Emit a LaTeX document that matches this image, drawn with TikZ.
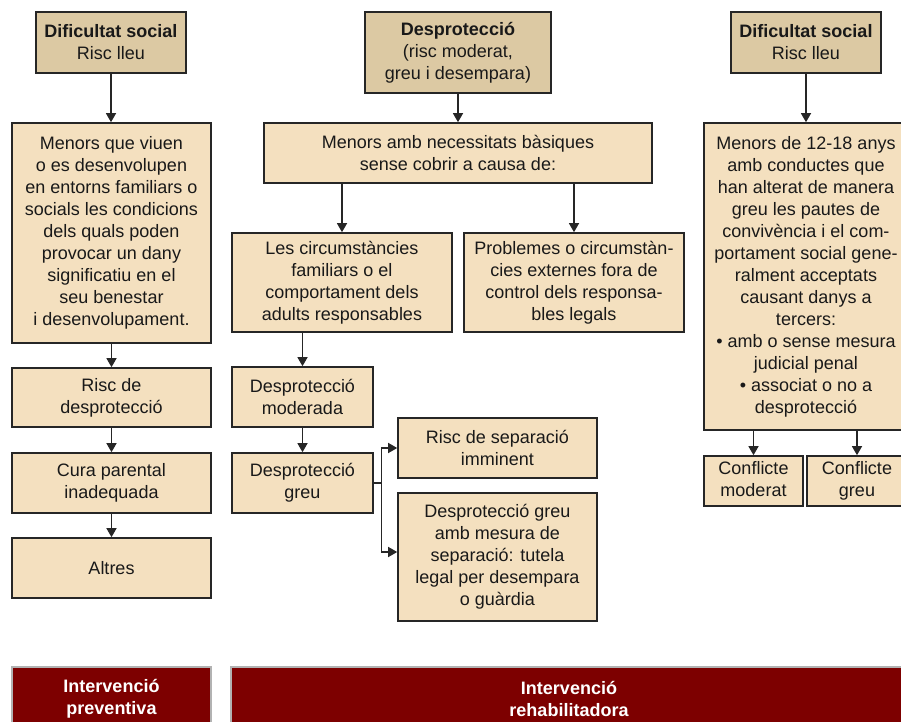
\documentclass[tikz,border=0pt]{standalone}
\usepackage{fontspec}
\setmainfont{Liberation Sans}
\usepackage{xcolor}
\usepackage{tikz}
\usetikzlibrary{arrows.meta, positioning, calc}

\definecolor{tanDark}{HTML}{DCC9A3}
\definecolor{tanLight}{HTML}{F4E0BF}
\definecolor{wine}{HTML}{7D0000}

\begin{document}
\begin{tikzpicture}[
  x=0.5pt, y=-0.5pt,
  box/.style    = {draw=black!85, line width=0.8pt, align=center, inner sep=2pt,
                   text=black!90, font=\fontsize{9}{11}\selectfont},
  head/.style   = {box, fill=tanDark},
  item/.style   = {box, fill=tanLight},
  action/.style = {box, fill=wine, draw=gray!60, text=white,
                   font=\fontsize{9}{11}\selectfont\bfseries},
  arr/.style    = {-{Triangle[length=4.5pt, width=5pt]}, line width=0.65pt, black!85},
]

\useasboundingbox (0,0) rectangle (901,722);
\clip (0,0) rectangle (901,722);

%% Left column: risc lleu
\node[head, minimum width=75pt,   minimum height=30.5pt] (difLeft)    at (111,42.5)
      {\textbf{Dificultat social}\\Risc lleu};
\node[item, minimum width=99.5pt, minimum height=110pt]  (menorsLeft) at (111.5,233)
      {Menors que viuen\\o es desenvolupen\\en entorns familiars o\\socials les condicions\\dels quals poden\\provocar un dany\\significatiu en el\\seu benestar\\i desenvolupament.};
\node[item, minimum width=99.5pt, minimum height=29.5pt] (riscDesp)   at (111.5,397.5)
      {Risc de\\desprotecció};
\node[item, minimum width=99.5pt, minimum height=30pt]   (cura)       at (111.5,483)
      {Cura parental\\inadequada};
\node[item, minimum width=99.5pt, minimum height=30pt]   (altres)     at (111.5,568)
      {Altres};

%% Middle column: desprotecció
\node[head, minimum width=93pt,   minimum height=40.5pt] (desp)       at (458,52.5)
      {\textbf{Desprotecció}\\(risc moderat,\\greu i desempara)};
\node[item, minimum width=194pt,  minimum height=30pt]   (menorsMid)  at (458,153)
      {Menors amb necessitats bàsiques\\sense cobrir a causa de:};
\node[item, minimum width=110pt,  minimum height=49.5pt] (circ)       at (342,282.5)
      {Les circumstàncies\\familiars o el\\comportament dels\\adults responsables};
\node[item, minimum width=110pt,  minimum height=49.5pt] (probl)      at (574,282.5)
      {Problemes o circumstàn-\\cies externes fora de\\control dels responsa-\\bles legals};
\node[item, minimum width=70.5pt, minimum height=30pt]   (despMod)    at (302.5,397)
      {Desprotecció\\moderada};
\node[item, minimum width=70.5pt, minimum height=30pt]   (despGreu)   at (302.5,483)
      {Desprotecció\\greu};
\node[item, minimum width=99.5pt, minimum height=30pt]   (riscSep)    at (497.5,448)
      {Risc de separació\\imminent};
\node[item, minimum width=99.5pt, minimum height=64pt]   (despMesura) at (497.5,557)
      {Desprotecció greu\\amb mesura de\\separació: tutela\\legal per desempara\\o guàrdia};

%% Right column: conflicte social
\node[head, minimum width=75pt,   minimum height=30.5pt] (difRight)    at (806,42.5)
      {\textbf{Dificultat social}\\Risc lleu};
\node[item, minimum width=102pt,  minimum height=153.5pt] (menorsRight) at (806,276.5)
      {Menors de 12-18 anys\\amb conductes que\\han alterat de manera\\greu les pautes de\\convivència i el com-\\portament social gene-\\ralment acceptats\\causant danys a\\tercers:\\• amb o sense mesura\\judicial penal\\• associat o no a\\desprotecció};
\node[item, minimum width=49.5pt, minimum height=25pt]   (confMod)     at (753.5,481)
      {Conflicte\\moderat\vphantom{g}};
\node[item, minimum width=50pt,   minimum height=25pt]   (confGreu)    at (857,481)
      {Conflicte\\greu};

%% Intervention bands
\node[action, minimum width=99.5pt, minimum height=31.5pt] (prev)  at (111.5,698.5)
      {Intervenció\\preventiva};
\node[action, minimum width=338pt,  minimum height=31.5pt] (rehab) at (569,698.5)
      {Intervenció\\rehabilitadora};

%% Left arrows
\draw[arr] (difLeft.south) -- (difLeft.south |- menorsLeft.north);
\draw[arr] (menorsLeft.south) -- (riscDesp.north);
\draw[arr] (riscDesp.south) -- (cura.north);
\draw[arr] (cura.south) -- (altres.north);

%% Middle arrows
\draw[arr] (desp.south) -- (menorsMid.north);
\draw[arr] (menorsMid.south -| circ.north) -- (circ.north);
\draw[arr] (menorsMid.south -| probl.north) -- (probl.north);
\draw[arr] (circ.south -| despMod.north) -- (despMod.north);
\draw[arr] (despMod.south) -- (despGreu.north);

%% Desprotecció greu splits in two
\coordinate (split) at ($(despGreu.east)+(8,0)$);
\draw[line width=0.65pt, black!85] (despGreu.east) -- (split);
\draw[arr] (split) |- (riscSep.west);
\draw[arr] (split) |- ($(despMesura.west)+(0,-5)$);

%% Right arrows
\draw[arr] (difRight.south) -- (menorsRight.north);
\draw[arr] (menorsRight.south -| confMod.north) -- (confMod.north);
\draw[arr] (menorsRight.south -| confGreu.north) -- (confGreu.north);

\end{tikzpicture}
\end{document}
